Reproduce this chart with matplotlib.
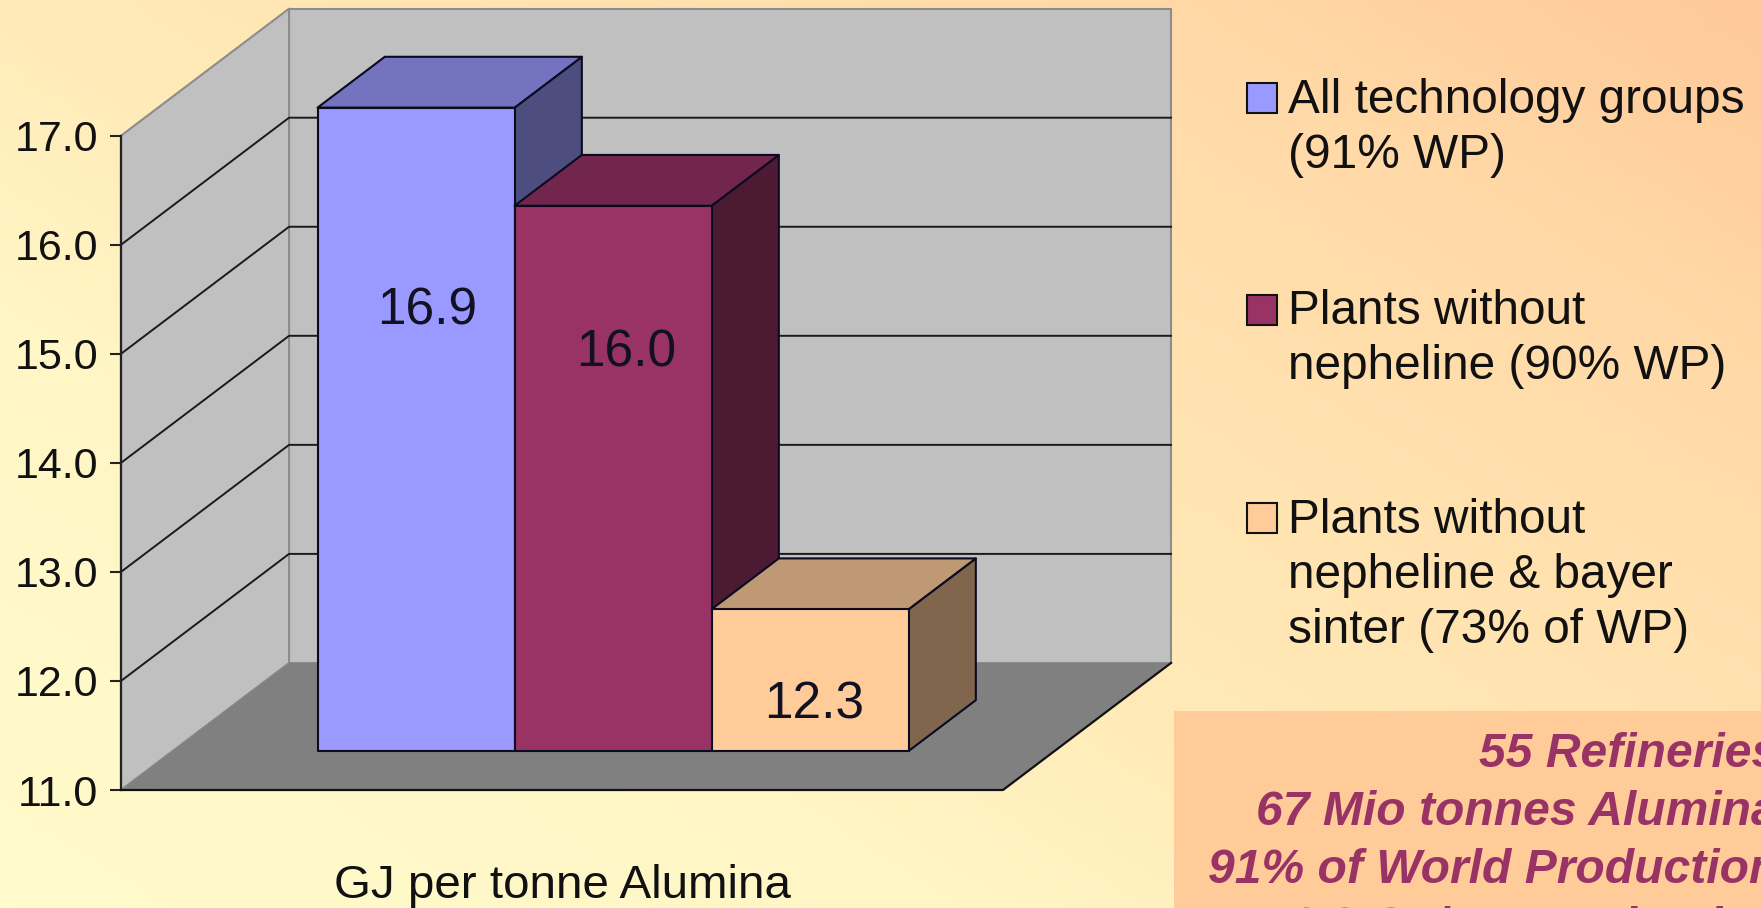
import numpy as np
import matplotlib
matplotlib.use("Agg")
import matplotlib.pyplot as plt
from matplotlib.colors import LinearSegmentedColormap
from matplotlib.patches import Polygon, Rectangle

plt.rcParams['font.family'] = ['Liberation Sans', 'DejaVu Sans']

# data
series_names = ["All technology groups", "Plants without nepheline", "Plants without nepheline & bayer sinter"]
values = [16.9, 16.0, 12.3]
value_labels = ["16.9", "16.0", "12.3"]
yticks = [11, 12, 13, 14, 15, 16, 17]
axis_title = "GJ per tonne Alumina"
legend_lines = [["All technology groups", "(91% WP)"],
                ["Plants without", "nepheline (90% WP)"],
                ["Plants without", "nepheline & bayer", "sinter (73% of WP)"]]
box_lines = ["55 Refineries", "67 Mio tonnes Alumina", "91% of World Production", "16.9 GJ/tonne Alumina"]

# colours: front, top, side
face_cols = ["#9999FF", "#993366", "#FFCC99"]
top_cols = ["#7373BF", "#73264D", "#BF9973"]
side_cols = ["#4D4D80", "#4D1A33", "#80664D"]
label_drop = [203, 147, 96]  # px below the bar top
label_shift = [0.555, 0.565, 0.52]  # across the bar

W, H = 1761, 908
fig = plt.figure(figsize=(W / 100, H / 100), dpi=100)

# background gradient + overlay in pixel coords
bg = fig.add_axes([0, 0, 1, 1], zorder=0)
bg.axis('off')
cmap = LinearSegmentedColormap.from_list("bg", [(0, "#FFFBCC"), (0.3, "#FFF5C5"), (0.45, "#FFEBB8"), (0.8, "#FFDAA8"), (1, "#FFC999")])
gx, gy = np.meshgrid(np.linspace(0, 1, 200), np.linspace(0, 1, 100))
bg.imshow(gx * 0.55 + gy * 0.45, extent=[0, W, 0, H], cmap=cmap, origin='lower', aspect='auto', vmin=0, vmax=1)

# chart axes = front plane of the box
x0, x1, y_bot, y_top = 121, 1003, 790, 135.7
ax = fig.add_axes([x0 / W, 1 - y_bot / H, (x1 - x0) / W, (y_bot - y_top) / H], zorder=1)
ax.patch.set_alpha(0)
ax.set_xlim(-0.736, 3.741)
ax.set_ylim(11, 17)
for s in ax.spines.values():
    s.set_visible(False)
ax.set_xticks([])
ax.set_yticks(yticks)
ax.set_yticklabels([f"{t:.1f}" for t in yticks], fontsize=31, color="#111111")
ax.tick_params(axis='y', length=8, width=1.5, pad=8.5, color="#222222")

# depth 1 = back wall, oblique shift in data units
DX, DY = 0.853, 1.165
xl = ax.get_xlim()

def pr(x, v, d):
    return (x + DX * d, v + DY * d)

def poly(pts, col, ec="black", lw=1.5, z=2):
    ax.add_patch(Polygon(pts, closed=True, facecolor=col, edgecolor=ec, linewidth=lw, zorder=z, clip_on=False, joinstyle='round'))

# walls and floor
poly([pr(xl[0], 11, 1), pr(xl[1], 11, 1), pr(xl[1], 17, 1), pr(xl[0], 17, 1)], "#C0C0C0", ec="#8C8C8C", z=1)
poly([pr(xl[0], 11, 0), pr(xl[0], 11, 1), pr(xl[0], 17, 1), pr(xl[0], 17, 0)], "#C0C0C0", ec="#8C8C8C", z=1)
poly([pr(xl[0], 11, 0), pr(xl[1], 11, 0), pr(xl[1], 11, 1), pr(xl[0], 11, 1)], "#808080", ec="none", z=1)

# gridlines, side wall then back wall
for t in yticks[1:-1]:
    xs, ys = zip(pr(xl[0], t, 0), pr(xl[0], t, 1), pr(xl[1], t, 1))
    ax.plot(xs, ys, color="#1A1A1A", lw=1.4, zorder=1.5, clip_on=False)
# axis lines on the front plane and floor edge
ax.plot([xl[0], xl[0]], [11, 17], color="#222222", lw=1.6, zorder=1.6, clip_on=False)
xs, ys = zip(pr(xl[0], 11, 0), pr(xl[1], 11, 0), pr(xl[1], 11, 1))
ax.plot(xs, ys, color="#111111", lw=1.6, zorder=1.6, clip_on=False)

# bars
d0, d1 = 0.307, 0.707
for i, v in enumerate(values):
    poly([pr(i + 1, 11, d0), pr(i + 1, 11, d1), pr(i + 1, v, d1), pr(i + 1, v, d0)], side_cols[i], ec="#0A0A20", z=2 + i)
    poly([pr(i, v, d0), pr(i + 1, v, d0), pr(i + 1, v, d1), pr(i, v, d1)], top_cols[i], ec="#0A0A20", z=2 + i)
    poly([pr(i, 11, d0), pr(i + 1, 11, d0), pr(i + 1, v, d0), pr(i, v, d0)], face_cols[i], ec="#0A0A20", z=2 + i)
    lx, ly = pr(i + label_shift[i], v - label_drop[i] / 109.05, d0)
    ax.text(lx, ly, value_labels[i], fontsize=37, ha='center', va='center', color="#111122", zorder=6)

ax.text(0.5, -0.165, axis_title, transform=ax.transAxes, fontsize=34.2, ha='center', va='baseline', color="#111111")

# legend on top, pixel coords
ov = fig.add_axes([0, 0, 1, 1], zorder=2)
ov.set_xlim(0, W)
ov.set_ylim(H, 0)
ov.axis('off')
sw_top = [83, 295, 503]
first_base = [113, 324, 533]
for i, lines in enumerate(legend_lines):
    ov.add_patch(Rectangle((1247, sw_top[i]), 30, 30, facecolor=face_cols[i], edgecolor="#111111", lw=1.5))
    for j, s in enumerate(lines):
        ov.text(1288, first_base[i] + j * 55, s, fontsize=34.4, va='baseline', ha='left', color="#111111")

# text box, runs off the picture like the slide does
ov.add_patch(Rectangle((1174, 711), W - 1174 + 5, H - 711 + 5, facecolor="#FFCC99", edgecolor="none"))
for j, s in enumerate(box_lines):
    ov.text(1778, 767 + j * 58, s, fontsize=34.6, fontweight='bold', style='italic', ha='right', va='baseline', color="#993366", clip_on=False)

fig.savefig("out.png", dpi=100)
